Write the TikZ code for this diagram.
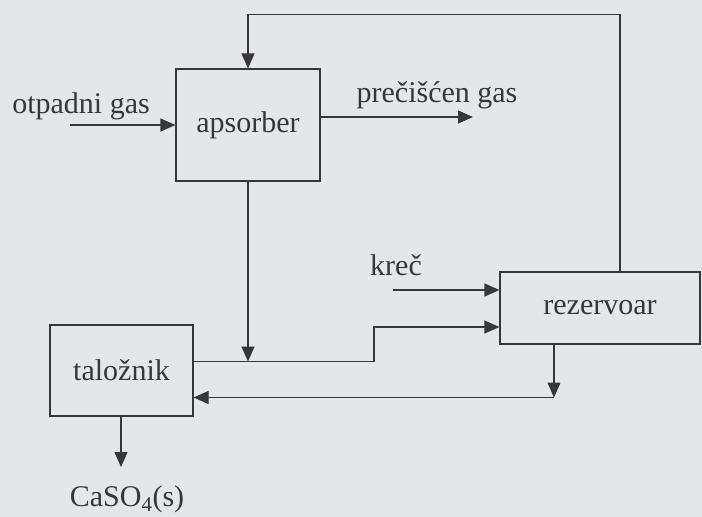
\documentclass[tikz,border=0pt]{standalone}
\usepackage{fontspec}
\setmainfont{Liberation Serif}
\usetikzlibrary{arrows.meta}
\definecolor{paper}{RGB}{228,231,233}
\definecolor{ink}{RGB}{55,55,58}
\tikzset{
  unit/.style={draw=ink, line width=1.2pt, rectangle, inner sep=0pt, font=\fontsize{30}{32}\selectfont, text=ink},
  lbl/.style={font=\fontsize{30}{32}\selectfont, text=ink, inner sep=0pt},
  flow/.style={draw=ink, line width=1.2pt, -{Triangle[length=15pt,width=13pt]}},
  pipe/.style={draw=ink, line width=1.2pt}
}
\begin{document}
\begin{tikzpicture}[x=1pt, y=-1pt]
  \useasboundingbox[fill=paper] (0,0) rectangle (702,517);

  % process units
  \node[unit, minimum width=144pt, minimum height=112pt] (aps) at (248,125) {apsorber};
  \node[unit, minimum width=143pt, minimum height=91pt] (tal) at (121.5,370.5) {taložnik};
  \node[unit, minimum width=200pt, minimum height=72pt] (rez) at (600,308) {rezervoar};

  % labels
  \node[lbl] (lin) at (81,106) {otpadni gas};
  \node[lbl] (lout) at (437,95) {prečišćen gas};
  \node[lbl] (lkrec) at (396,265) {kreč};
  \node[lbl] (lsol) at (127,499) {CaSO\textsubscript{4}(s)};

  % free ends and bends
  \coordinate (gin) at (70,125);
  \coordinate (gout) at (473,117);
  \coordinate (kin) at (393,290);
  \coordinate (rin) at (500,327);
  \coordinate (bend) at (374,361.5);
  \coordinate (ret) at (554,397.5);
  \coordinate (loop) at (620,14.5);
  \coordinate (out) at (121,467);

  % gas streams
  \draw[flow] (gin) -- (aps.west |- gin);
  \draw[flow] (aps.east |- gout) -- (gout);

  % recycle from the reservoir back to the absorber
  \draw[flow] (rez.north -| loop) -- (loop) -| (aps.north);

  % lime feed
  \draw[flow] (kin) -- (rez.west |- kin);

  % absorber liquor to the settler line
  \draw[flow] (aps.south) -- (aps.south |- bend);

  % settler overflow to the reservoir
  \draw[flow] (tal.east |- bend) -- (bend) |- (rez.west |- rin);

  % reservoir return to the settler
  \draw[flow] (rez.south -| ret) -- (ret);
  \draw[flow] (ret) -- (tal.east |- ret);

  % solids out
  \draw[flow] (tal.south -| out) -- (out);
\end{tikzpicture}
\end{document}
